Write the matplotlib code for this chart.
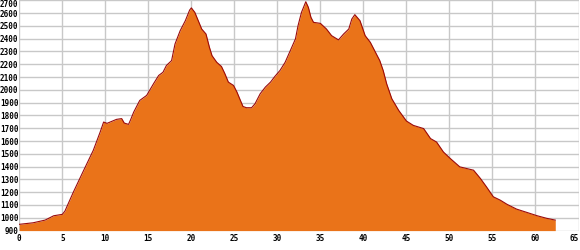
import matplotlib
matplotlib.use("Agg")
import matplotlib.pyplot as plt
import numpy as np

# Profil altimétrique : distance (km) et altitude (m)
distance_km = [0, 1.6, 3.0, 4.0, 5.0, 5.3, 6.3, 7.4, 8.6, 9.4, 9.8, 10.2, 11.3, 11.9,
               12.2, 12.7, 12.9, 13.3, 14.0, 14.8, 15.6, 16.2, 16.7, 17.1, 17.7, 18.1,
               18.7, 19.3, 19.8, 20.0, 20.4, 20.8, 21.2, 21.7, 22.1, 22.4, 22.95, 23.5,
               23.9, 24.3, 24.9, 25.3, 25.7, 26.0, 26.4, 27.0, 27.4, 28.0, 28.6, 29.2,
               29.7, 30.3, 30.9, 31.5, 32.1, 32.4, 32.8, 33.3, 33.6, 33.9, 34.2, 35.0,
               35.7, 36.3, 37.1, 37.7, 38.3, 38.65, 39.0, 39.6, 40.2, 40.8, 41.4, 41.9,
               42.3, 42.7, 43.3, 44.1, 45.0, 45.8, 47.0, 47.8, 48.5, 49.3, 50.1, 51.2,
               52.0, 52.8, 53.6, 54.3, 55.1, 55.9, 56.7, 57.8, 59.0, 60.2, 61.3, 62.3]
altitude_m = [949, 961, 982, 1016, 1027, 1052, 1203, 1359, 1527, 1670, 1748, 1738, 1769, 1775,
              1740, 1730, 1760, 1826, 1917, 1956, 2047, 2112, 2137, 2190, 2228, 2358,
              2462, 2540, 2623, 2640, 2605, 2540, 2475, 2436, 2332, 2267, 2215, 2182,
              2125, 2060, 2034, 1982, 1917, 1870, 1860, 1860, 1891, 1969, 2021, 2060,
              2104, 2151, 2215, 2306, 2398, 2501, 2605, 2688, 2644, 2566, 2527, 2519,
              2475, 2423, 2390, 2436, 2475, 2553, 2587, 2540, 2423, 2371, 2293, 2228,
              2150, 2047, 1930, 1839, 1756, 1722, 1697, 1619, 1592, 1514, 1463, 1398,
              1385, 1372, 1307, 1242, 1164, 1138, 1105, 1068, 1042, 1016, 996, 982]

x_ticks = list(range(0, 66, 5))
y_ticks = list(range(900, 2701, 100))

fig = plt.figure(figsize=(5.8, 2.5), dpi=100)
ax = fig.add_axes([19.3 / 580, 19.4 / 250, (578.5 - 19.3) / 580, 230.4 / 250])

ax.fill_between(distance_km, altitude_m, 900, color='#ea7319', linewidth=0, zorder=2)
ax.plot(distance_km, altitude_m, color='#9b0a0a', linewidth=0.8, zorder=3)

ax.set_xlim(0, 65)
ax.set_ylim(900, 2700)
ax.set_xticks(x_ticks)
ax.set_yticks(y_ticks)
ax.grid(True, color='#c8c8c8', linewidth=1, zorder=0)
ax.set_axisbelow(True)
for s in ax.spines.values():
    s.set_visible(False)

ax.tick_params(axis='y', length=0, pad=0.6, labelsize=5.5)
ax.tick_params(axis='x', length=0, pad=2.5, labelsize=5.5)
for lab in ax.get_xticklabels() + ax.get_yticklabels():
    lab.set_fontfamily('DejaVu Sans Mono')
    lab.set_fontweight('bold')

# les étiquettes des bords restent dans l'image
ax.get_yticklabels()[-1].set_verticalalignment('top')
ax.get_xticklabels()[-1].set_horizontalalignment('right')

fig.savefig('out.png', dpi=100)
